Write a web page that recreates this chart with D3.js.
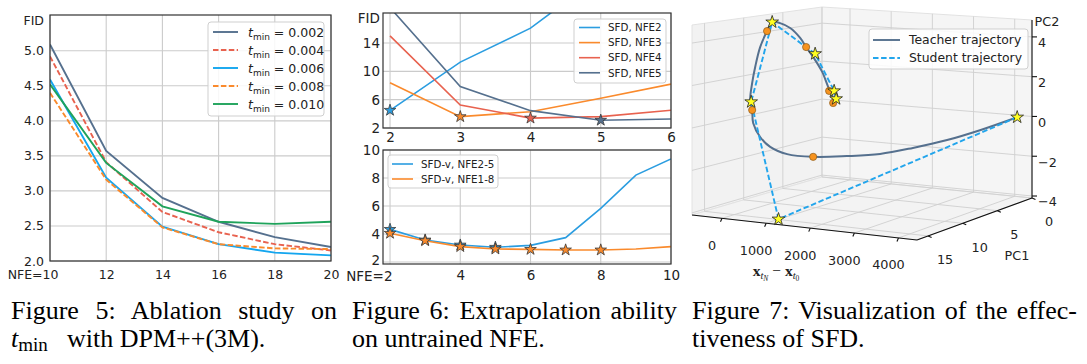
<!DOCTYPE html>
<html><head><meta charset="utf-8">
<script src="https://cdn.jsdelivr.net/npm/d3@7"></script>
<style>
body{margin:0;background:#fff}
svg{display:block}
</style>
</head><body>
<svg id="c" width="1087" height="364"></svg>
<script>
// ---------------- DATA ----------------
// Figure 5: ablation on t_min
const nfeAblation = [10, 12, 14, 16, 18, 20];
const tminLabels = ["0.002", "0.004", "0.006", "0.008", "0.010"];
const fidT002 = [5.09, 3.57, 2.90, 2.56, 2.34, 2.20];
const fidT004 = [4.92, 3.41, 2.70, 2.41, 2.24, 2.15];
const fidT006 = [4.59, 3.19, 2.49, 2.24, 2.12, 2.08];
const fidT008 = [4.40, 3.16, 2.48, 2.24, 2.18, 2.17];
const fidT010 = [4.52, 3.40, 2.78, 2.56, 2.53, 2.56];
const ablationYTicks = [2.0, 2.5, 3.0, 3.5, 4.0, 4.5, 5.0];

// Figure 6 top: SFD trained at a single NFE
const nfeTop = [2, 3, 4, 5, 6];
const sfdLabels = ["SFD, NFE2", "SFD, NFE3", "SFD, NFE4", "SFD, NFE5"];
const sfdNFE2 = [4.5, 11.3, 16.1, 23.5, 31.0];
const sfdNFE3 = [8.4, 3.6, 4.3, 6.2, 8.2];
const sfdNFE4 = [15.0, 5.25, 3.4, 3.6, 4.5];
const sfdNFE5 = [19.0, 7.85, 4.45, 3.1, 3.27];
const sfdTrainedNFE = [2, 3, 4, 5];          // star positions (own NFE)
const topYTicks = [2, 6, 10, 14];

// Figure 6 bottom: SFD-v
const nfeBottom = [2, 3, 4, 5, 6, 7, 8, 9, 10];
const sfdvLabels = ["SFD-v, NFE2-5", "SFD-v, NFE1-8"];
const sfdv25 = [4.33, 3.57, 3.21, 3.05, 3.19, 3.74, 5.83, 8.21, 9.36];
const sfdv18 = [4.05, 3.52, 3.10, 2.93, 2.90, 2.86, 2.86, 2.93, 3.10];
const sfdv25Trained = [2, 3, 4, 5];
const sfdv18Trained = [2, 3, 4, 5, 6, 7, 8];
const bottomXTicks = [2, 4, 6, 8, 10];
const bottomYTicks = [2, 4, 6, 8, 10];

// Figure 7: 3D trajectories (x_tN - x_t0, PC1, PC2)
const teacherX   = [4060, 3500, 3080, 2550, 2205, 1720, 1217, 615, 223, -9, -171, -194, -240, -194, -124, -9, 151, 269, 452, 685, 916, 1054, 1217, 1426, 1564, 1656, 1679];
const teacherPC1 = [0.0, 2.0, 4.15, 5.8, 8.3, 10.0, 11.6, 11.6, 11.6, 11.6, 11.6, 11.6, 11.6, 11.6, 11.6, 11.6, 11.6, 11.6, 11.6, 11.6, 11.6, 11.6, 11.6, 11.6, 11.6, 11.6, 11.6];
const teacherPC2 = [-0.1, -0.65, -1.0, -1.32, -1.43, -1.46, -1.44, -1.43, -1.16, -0.73, -0.08, 0.54, 1.02, 1.85, 2.64, 3.62, 4.42, 4.87, 4.85, 4.65, 4.21, 3.79, 3.34, 2.66, 1.97, 1.60, 1.22];
const teacherStepX   = [1217, -194, 151, 1054, 1586, 1679];
const teacherStepPC1 = [11.6, 11.6, 11.6, 11.6, 11.6, 11.6];
const teacherStepPC2 = [-1.44, 0.54, 4.42, 3.79, 1.78, 1.22];
const studentX   = [4060, 990, -217, 269, 1263, 1702, 1748];
const studentPC1 = [0.0, 14.9, 11.6, 11.6, 11.6, 11.6, 11.6];
const studentPC2 = [-0.1, -4.1, 0.93, 4.87, 3.50, 1.80, 1.43];
const xDiffTicks = [0, 1000, 2000, 3000, 4000];
const pc1Ticks = [0, 5, 10, 15];
const pc2Ticks = [-4, -2, 0, 2, 4];
const legend3 = ["Teacher trajectory", "Student trajectory"];

// ---------------- STYLE ----------------
const C = {
  slate: "#55708e", red: "#e8624f", sky: "#14a6ef", orange: "#fa8a2c",
  green: "#1fa35b", blue2: "#2b9de0", grid: "#cbcbcb", frame: "#333", txt: "#222"
};
const SANS = "DejaVu Sans, sans-serif";
const svg = d3.select("#c");

function clip(id, l, t, r, b) {
  svg.append("clipPath").attr("id", id).append("rect")
    .attr("x", l).attr("y", t).attr("width", r - l).attr("height", b - t);
}
function styleAxis(g, fs) {
  g.attr("font-size", fs).attr("font-family", SANS);
  g.select(".domain").remove();
  g.selectAll("text").attr("fill", C.txt);
}
function grid(xs, ys, xt, yt, box) {
  const g = svg.append("g");
  g.selectAll(".gx").data(xt).join("line")
    .attr("x1", d => xs(d)).attr("x2", d => xs(d)).attr("y1", box.t).attr("y2", box.b)
    .attr("stroke", C.grid).attr("stroke-width", 1.1);
  g.selectAll(".gy").data(yt).join("line")
    .attr("y1", d => ys(d)).attr("y2", d => ys(d)).attr("x1", box.l).attr("x2", box.r)
    .attr("stroke", C.grid).attr("stroke-width", 1.1);
}
function frame(box) {
  svg.append("rect").attr("x", box.l).attr("y", box.t)
    .attr("width", box.r - box.l).attr("height", box.b - box.t)
    .attr("fill", "none").attr("stroke", C.frame).attr("stroke-width", 1.2);
}
function starPath(s) { return d3.symbol().type(d3.symbolStar).size(s)(); }

// ================= PANEL 1 =================
const b1 = {l: 50, r: 331, t: 15, b: 261};
const x1 = d3.scaleLinear().domain([10, 20]).range([b1.l, b1.r]);
const y1 = d3.scaleLinear().domain([2.0, 5.51]).range([b1.b, b1.t]);
grid(x1, y1, nfeAblation, ablationYTicks, b1);
clip("c1", b1.l, b1.t, b1.r, b1.b);
const series1 = [
  {v: fidT002, c: C.slate, dash: null},
  {v: fidT004, c: C.red, dash: "5.5,2.4"},
  {v: fidT006, c: C.sky, dash: null},
  {v: fidT008, c: C.orange, dash: "5.5,2.4"},
  {v: fidT010, c: C.green, dash: null}
];
const line1 = d3.line().x((d, i) => x1(nfeAblation[i])).y(d => y1(d));
const g1 = svg.append("g").attr("clip-path", "url(#c1)");
series1.forEach(s => {
  g1.append("path").attr("d", line1(s.v)).attr("fill", "none")
    .attr("stroke", s.c).attr("stroke-width", 1.9)
    .attr("stroke-dasharray", s.dash);
});
frame(b1);
let ax = svg.append("g").attr("transform", `translate(${b1.l},0)`)
  .call(d3.axisLeft(y1).tickValues(ablationYTicks).tickFormat(d3.format(".1f")).tickSize(0).tickPadding(6));
styleAxis(ax, 12.5);
ax = svg.append("g").attr("transform", `translate(0,${b1.b})`)
  .call(d3.axisBottom(x1).tickValues(nfeAblation).tickFormat(d => d === 10 ? "NFE=10" : d).tickSize(0).tickPadding(9.5));
styleAxis(ax, 12.5);
ax.selectAll("text").filter(d => d === 10).attr("text-anchor", "end").attr("x", 8);
svg.append("text").attr("x", 44).attr("y", 21).attr("dy", "0.35em").attr("text-anchor", "end")
  .attr("font-family", SANS).attr("font-size", 12.5).attr("fill", C.txt).text("FID");
// legend
const lg1 = svg.append("g");
lg1.append("rect").attr("x", 208).attr("y", 22).attr("width", 116).attr("height", 94).attr("rx", 3)
  .attr("fill", "#fff").attr("fill-opacity", 0.85).attr("stroke", "#cfcfcf");
series1.forEach((s, i) => {
  const yy = 32 + i * 18;
  lg1.append("line").attr("x1", 213).attr("x2", 238).attr("y1", yy).attr("y2", yy)
    .attr("stroke", s.c).attr("stroke-width", 1.9).attr("stroke-dasharray", s.dash);
  const t = lg1.append("text").attr("x", 248).attr("y", yy + 4.5)
    .attr("font-family", SANS).attr("font-size", 12.5).attr("fill", C.txt);
  t.append("tspan").attr("font-style", "italic").text("t");
  t.append("tspan").attr("font-size", 9).attr("dy", 3).text("min");
  t.append("tspan").attr("dy", -3).text(" = " + tminLabels[i]);
});

// ================= PANEL 2 TOP =================
const b2 = {l: 383, r: 671, t: 13, b: 128};
const x2 = d3.scaleLinear().domain([1.9, 6.0]).range([b2.l, b2.r]);
const y2 = d3.scaleLinear().domain([2, 18.24]).range([b2.b, b2.t]);
grid(x2, y2, nfeTop, topYTicks, b2);
clip("c2", b2.l, b2.t, b2.r, b2.b);
const series2 = [
  {v: sfdNFE2, c: C.blue2}, {v: sfdNFE3, c: C.orange}, {v: sfdNFE4, c: C.red}, {v: sfdNFE5, c: C.slate}
];
const line2 = d3.line().x((d, i) => x2(nfeTop[i])).y(d => y2(d));
const g2 = svg.append("g").attr("clip-path", "url(#c2)");
series2.forEach(s => {
  g2.append("path").attr("d", line2(s.v)).attr("fill", "none").attr("stroke", s.c).attr("stroke-width", 1.6);
});
series2.forEach((s, i) => {
  const n = sfdTrainedNFE[i];
  const k = nfeTop.indexOf(n);
  svg.append("path").attr("d", starPath(42))
    .attr("transform", `translate(${x2(n)},${y2(s.v[k])})`)
    .attr("fill", s.c).attr("stroke", "#3a3a3a").attr("stroke-width", 0.8);
});
frame(b2);
ax = svg.append("g").attr("transform", `translate(${b2.l},0)`)
  .call(d3.axisLeft(y2).tickValues(topYTicks).tickFormat(d3.format("d")).tickSize(0).tickPadding(3));
styleAxis(ax, 13.5);
ax = svg.append("g").attr("transform", `translate(0,${b2.b})`)
  .call(d3.axisBottom(x2).tickValues(nfeTop).tickFormat(d3.format("d")).tickSize(0).tickPadding(4));
styleAxis(ax, 13.5);
svg.append("text").attr("x", 380).attr("y", 18).attr("dy", "0.35em").attr("text-anchor", "end")
  .attr("font-family", SANS).attr("font-size", 13.5).attr("fill", C.txt).text("FID");
const lg2 = svg.append("g");
lg2.append("rect").attr("x", 574).attr("y", 19).attr("width", 92).attr("height", 64).attr("rx", 3)
  .attr("fill", "#fff").attr("fill-opacity", 0.85).attr("stroke", "#cfcfcf");
series2.forEach((s, i) => {
  const yy = 27.5 + i * 15.1;
  lg2.append("line").attr("x1", 579).attr("x2", 600).attr("y1", yy).attr("y2", yy)
    .attr("stroke", s.c).attr("stroke-width", 1.6);
  lg2.append("text").attr("x", 608).attr("y", yy).attr("dy", "0.36em")
    .attr("font-family", SANS).attr("font-size", 10.3).attr("fill", C.txt).text(sfdLabels[i]);
});

// ================= PANEL 2 BOTTOM =================
const b3 = {l: 383, r: 671, t: 150, b: 264};
const x3 = d3.scaleLinear().domain([1.8, 10]).range([b3.l, b3.r]);
const y3 = d3.scaleLinear().domain([1.857, 10]).range([b3.b, b3.t]);
grid(x3, y3, bottomXTicks, bottomYTicks, b3);
clip("c3", b3.l, b3.t, b3.r, b3.b);
const line3 = d3.line().x((d, i) => x3(nfeBottom[i])).y(d => y3(d));
const g3 = svg.append("g").attr("clip-path", "url(#c3)");
g3.append("path").attr("d", line3(sfdv25)).attr("fill", "none").attr("stroke", C.blue2).attr("stroke-width", 1.6);
g3.append("path").attr("d", line3(sfdv18)).attr("fill", "none").attr("stroke", C.orange).attr("stroke-width", 1.6);
sfdv25Trained.forEach(n => {
  svg.append("path").attr("d", starPath(42))
    .attr("transform", `translate(${x3(n)},${y3(sfdv25[nfeBottom.indexOf(n)])})`)
    .attr("fill", C.blue2).attr("stroke", "#3a3a3a").attr("stroke-width", 0.8);
});
sfdv18Trained.forEach(n => {
  svg.append("path").attr("d", starPath(42))
    .attr("transform", `translate(${x3(n)},${y3(sfdv18[nfeBottom.indexOf(n)])})`)
    .attr("fill", C.orange).attr("stroke", "#3a3a3a").attr("stroke-width", 0.8);
});
frame(b3);
ax = svg.append("g").attr("transform", `translate(${b3.l},0)`)
  .call(d3.axisLeft(y3).tickValues(bottomYTicks).tickFormat(d3.format("d")).tickSize(0).tickPadding(3));
styleAxis(ax, 13.5);
ax.selectAll("text").filter(d => d === 2).attr("dy", "0.2em");
ax = svg.append("g").attr("transform", `translate(0,${b3.b})`)
  .call(d3.axisBottom(x3).tickValues(bottomXTicks).tickFormat(d => d === 2 ? "NFE=2" : d).tickSize(0).tickPadding(6));
styleAxis(ax, 13.5);
ax.selectAll("text").filter(d => d === 2).attr("text-anchor", "end").attr("x", 2).attr("dy", "0.8em");
const lg3 = svg.append("g");
lg3.append("rect").attr("x", 388).attr("y", 155).attr("width", 110).attr("height", 33).attr("rx", 3)
  .attr("fill", "#fff").attr("fill-opacity", 0.85).attr("stroke", "#cfcfcf");
[C.blue2, C.orange].forEach((c, i) => {
  const yy = 164 + i * 15;
  lg3.append("line").attr("x1", 392).attr("x2", 413).attr("y1", yy).attr("y2", yy)
    .attr("stroke", c).attr("stroke-width", 1.6);
  lg3.append("text").attr("x", 421).attr("y", yy).attr("dy", "0.36em")
    .attr("font-family", SANS).attr("font-size", 10.3).attr("fill", C.txt).text(sfdvLabels[i]);
});

// ================= PANEL 3 (3D) =================
const X3 = d3.scaleLinear().domain([-680, 4420]).range([0, 1]);
const P3 = d3.scaleLinear().domain([0, 16.6]).range([0, 1]);
const Z3 = d3.scaleLinear().domain([-4.1, 4.85]).range([0, 1]);
// projected floor corners (back, right, left, front) and wall heights
const cB = [822, 177], cR = [1032, 198], cL = [692, 215], cF = [917, 240];
const hB = 170, hR = 178, hL = 190, hF = 198;
function proj(X, P, Z) {
  const u = X3(X), v = P3(P), w = Z3(Z);
  const a = (1 - u) * (1 - v), b = u * (1 - v), c = (1 - u) * v, d = u * v;
  const fx = a * cB[0] + b * cR[0] + c * cL[0] + d * cF[0];
  const fy = a * cB[1] + b * cR[1] + c * cL[1] + d * cF[1];
  const h = a * hB + b * hR + c * hL + d * hF;
  return [fx, fy - w * h];
}
const [xMin, xMax] = X3.domain(), [pMin, pMax] = P3.domain(), [zMin, zMax] = Z3.domain();
const g7 = svg.append("g");
const poly = pts => "M" + pts.map(p => p.join(",")).join("L") + "Z";
// panes
g7.append("path").attr("d", poly([proj(xMin, pMin, zMin), proj(xMin, pMax, zMin), proj(xMin, pMax, zMax), proj(xMin, pMin, zMax)]))
  .attr("fill", "#f2f2f2").attr("stroke", "#e2e2e2");
g7.append("path").attr("d", poly([proj(xMin, pMin, zMin), proj(xMax, pMin, zMin), proj(xMax, pMin, zMax), proj(xMin, pMin, zMax)]))
  .attr("fill", "#f5f5f5").attr("stroke", "#e2e2e2");
g7.append("path").attr("d", poly([proj(xMin, pMin, zMin), proj(xMax, pMin, zMin), proj(xMax, pMax, zMin), proj(xMin, pMax, zMin)]))
  .attr("fill", "#f3f3f3").attr("stroke", "#e2e2e2");
// grid lines
const gl = (p, q) => g7.append("line").attr("x1", p[0]).attr("y1", p[1]).attr("x2", q[0]).attr("y2", q[1])
  .attr("stroke", "#cfcfcf").attr("stroke-width", 0.9);
pc1Ticks.forEach(p => { gl(proj(xMin, p, zMin), proj(xMin, p, zMax)); gl(proj(xMin, p, zMin), proj(xMax, p, zMin)); });
xDiffTicks.forEach(x => { gl(proj(x, pMin, zMin), proj(x, pMin, zMax)); gl(proj(x, pMin, zMin), proj(x, pMax, zMin)); });
pc2Ticks.forEach(z => { gl(proj(xMin, pMax, z), proj(xMin, pMin, z)); gl(proj(xMin, pMin, z), proj(xMax, pMin, z)); });
// axis lines
const al = (p, q) => g7.append("line").attr("x1", p[0]).attr("y1", p[1]).attr("x2", q[0]).attr("y2", q[1])
  .attr("stroke", "#111").attr("stroke-width", 1.1);
al(proj(xMin, pMax, zMin), proj(xMax, pMax, zMin));
al(proj(xMax, pMax, zMin), proj(xMax, pMin, zMin));
al(proj(xMax, pMin, zMin), proj(xMax, pMin, zMax));
const t3 = (x, y, s, anchor) => g7.append("text").attr("x", x).attr("y", y).attr("dy", "0.35em")
  .attr("text-anchor", anchor || "middle").attr("font-family", SANS).attr("font-size", 12.8).attr("fill", C.txt).text(s);
xDiffTicks.forEach(x => {
  const p = proj(x, pMax, zMin);
  al(p, [p[0] - 1.5, p[1] + 3.5]);
  t3(p[0] - 10, p[1] + 27, d3.format("d")(x));
});
pc1Ticks.forEach(pc => {
  const p = proj(xMax, pc, zMin);
  al(p, [p[0] + 3.5, p[1] + 1.5]);
  t3(p[0] + 17, p[1] + 24, d3.format("d")(pc));
});
pc2Ticks.forEach(z => {
  const p = proj(xMax, pMin, z);
  al(p, [p[0] + 5, p[1]]);
  t3(p[0] + 6, p[1] + 6, d3.format("d")(z).replace("-", "\u2212"), "start");
});
t3(1047, 22, "PC2");
t3(1017, 256, "PC1");
// x axis label: x_{t_N} - x_{t_0}
const xl = g7.append("text").attr("x", 776).attr("y", 276).attr("text-anchor", "middle")
  .attr("font-family", "Liberation Serif, serif").attr("font-size", 15.5).attr("fill", C.txt);
xl.append("tspan").attr("font-weight", "bold").text("x");
xl.append("tspan").attr("font-style", "italic").attr("font-size", 10.5).attr("dy", 3).text("t");
xl.append("tspan").attr("font-style", "italic").attr("font-size", 7.5).attr("dy", 2).text("N");
xl.append("tspan").attr("dy", -5).text(" \u2212 ");
xl.append("tspan").attr("font-weight", "bold").text("x");
xl.append("tspan").attr("font-style", "italic").attr("font-size", 10.5).attr("dy", 3).text("t");
xl.append("tspan").attr("font-size", 7.5).attr("dy", 2).text("0");
// trajectories
const teacherPts = teacherX.map((x, i) => proj(x, teacherPC1[i], teacherPC2[i]));
const studentPts = studentX.map((x, i) => proj(x, studentPC1[i], studentPC2[i]));
g7.append("path").attr("d", d3.line().curve(d3.curveCatmullRom.alpha(0.5))(teacherPts))
  .attr("fill", "none").attr("stroke", C.slate).attr("stroke-width", 2);
g7.append("path").attr("d", d3.line()(studentPts))
  .attr("fill", "none").attr("stroke", "#22a5ec").attr("stroke-width", 1.9).attr("stroke-dasharray", "5.5,2.6");
teacherStepX.forEach((x, i) => {
  const p = proj(x, teacherStepPC1[i], teacherStepPC2[i]);
  g7.append("circle").attr("cx", p[0]).attr("cy", p[1]).attr("r", 3.6)
    .attr("fill", "#f7931e").attr("stroke", "#8a5a1a").attr("stroke-width", 0.7);
});
studentPts.forEach(p => {
  g7.append("path").attr("d", starPath(50)).attr("transform", `translate(${p[0]},${p[1]})`)
    .attr("fill", "#ffff22").attr("stroke", "#222").attr("stroke-width", 0.8);
});
// legend
const lg7 = g7.append("g");
lg7.append("rect").attr("x", 869).attr("y", 29).attr("width", 159).attr("height", 40).attr("rx", 3)
  .attr("fill", "#fff").attr("fill-opacity", 0.85).attr("stroke", "#cfcfcf");
[{c: C.slate, d: null}, {c: "#22a5ec", d: "5.5,2.6"}].forEach((s, i) => {
  const yy = 40 + i * 18;
  lg7.append("line").attr("x1", 873).attr("x2", 900).attr("y1", yy).attr("y2", yy)
    .attr("stroke", s.c).attr("stroke-width", 1.9).attr("stroke-dasharray", s.d);
  lg7.append("text").attr("x", 909).attr("y", yy).attr("dy", "0.36em")
    .attr("font-family", SANS).attr("font-size", 12.4).attr("fill", C.txt).text(legend3[i]);
});

// ================= CAPTIONS =================
const SERIF = "Liberation Serif, Times New Roman, serif";
const cap = (x, y, s, len) => {
  const t = svg.append("text").attr("x", x).attr("y", y).attr("font-family", SERIF)
    .attr("font-size", 26).attr("fill", "#000").text(s);
  if (len) {
    // justify by widening word gaps only
    const natural = t.node().getComputedTextLength();
    const gaps = (s.match(/ /g) || []).length;
    if (gaps > 0) t.attr("word-spacing", Math.max(0, (len - natural) / gaps));
  }
  return t;
};
cap(11, 319, "Figure 5: Ablation study on", 326);
const tm = svg.append("text").attr("x", 11).attr("y", 347).attr("font-family", SERIF).attr("font-size", 26).attr("fill", "#000");
tm.append("tspan").attr("font-style", "italic").text("t");
tm.append("tspan").attr("font-size", 19).attr("dy", 4).text("min");
cap(67, 347, "with DPM++(3M).");
cap(352, 319, "Figure 6: Extrapolation ability", 325);
cap(352, 347, "on untrained NFE.");
cap(692, 319, "Figure 7: Visualization of the effec-", 385);
cap(692, 347, "tiveness of SFD.");
</script>
</body></html>
